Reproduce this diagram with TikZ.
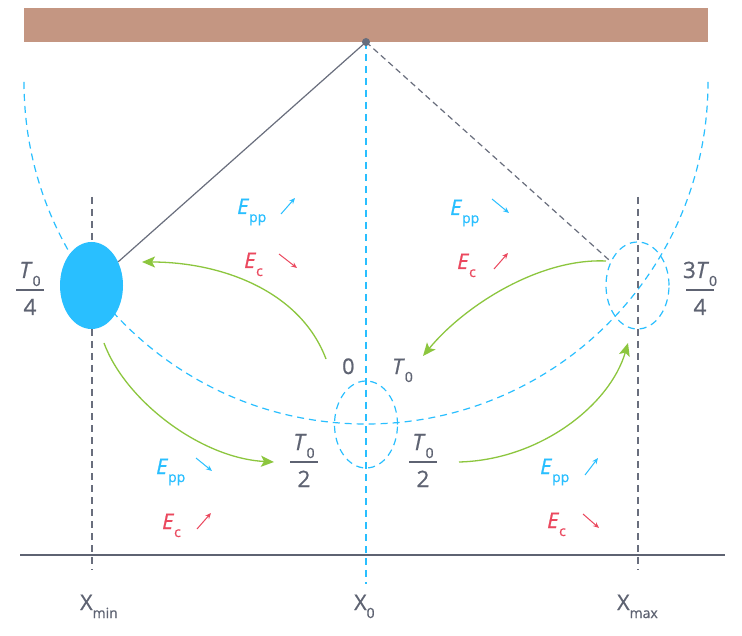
\documentclass[tikz,border=0pt]{standalone}
\usepackage{fontspec}
\setmainfont{Open Sans}[FakeBold=0.8]
\usetikzlibrary{arrows.meta,shapes.geometric}
\definecolor{tgray}{RGB}{94,99,114}
\definecolor{lgray}{RGB}{105,110,125}
\definecolor{pblue}{RGB}{41,191,255}
\definecolor{pred}{RGB}{235,72,94}
\definecolor{pgreen}{RGB}{140,198,62}
\definecolor{wood}{RGB}{196,150,130}
\newcommand\sbs[1]{\raisebox{-8pt}{\fontsize{14}{14}\selectfont #1}}
\newcommand\Tz{\textit{T}\sbs{0}}
\newcommand\fracat[5]{%
  \node[lbl, font=\fontsize{22.5}{26}\selectfont, anchor=base] (#1n) at (#2,#3-12) {#4};
  \draw[tgray, line width=1.4pt] (#2-14,#3) -- (#2+14,#3);
  \node[lbl, font=\fontsize{22.5}{26}\selectfont, anchor=base] (#1d) at (#2,#3+25) {#5};}
\begin{document}
\begin{tikzpicture}[x=1pt,y=-1pt,
  lbl/.style={font=\fontsize{21.5}{24}\selectfont, text=tgray, inner sep=0pt, anchor=base west},
  elbl/.style={lbl, text=pblue},
  clbl/.style={lbl, text=pred},
  bluedash/.style={draw=pblue, line width=1.2pt, dash pattern=on 7pt off 5pt},
  graydash/.style={draw=lgray, line width=1.3pt, dash pattern=on 7pt off 5pt},
  swing/.style={draw=pgreen, line width=1.3pt, -{Stealth[length=13pt,width=11pt,inset=3pt]}},
  bluearr/.style={draw=pblue, line width=1pt, -{Stealth[length=6pt,width=5pt]}},
  redarr/.style={draw=pred, line width=1pt, -{Stealth[length=6pt,width=5pt]}},
  bobshape/.style={ellipse, minimum width=63pt, minimum height=87pt, inner sep=0pt},
]
\useasboundingbox (0,0) rectangle (742,636);
\fill[white] (0,0) rectangle (742,636);
% ceiling
\node[fill=wood, minimum width=684pt, minimum height=34pt, inner sep=0pt, anchor=north west] (ceiling) at (24,8) {};
% swing arc
\draw[bluedash] (24,82) arc[start angle=180, end angle=0, radius=342];
% verticals
\coordinate (pv) at (366,42);
\coordinate (x0b) at (366,584);
\draw[bluedash] (pv) -- (x0b);
\coordinate (xmint) at (92,197); \coordinate (xminb) at (92,570);
\coordinate (xmaxt) at (638,197); \coordinate (xmaxb) at (638,570);
\draw[graydash] (xmint) -- (xminb);
\draw[graydash] (xmaxt) -- (xmaxb);
% ground
\coordinate (gl) at (20,555); \coordinate (gr) at (725,555);
\draw[tgray, line width=1.6pt] (gl) -- (gr);
% bobs
\node[bobshape, fill=pblue] (bob) at (91.5,285.5) {};
\node[bobshape, bluedash] (right) at (637.5,285.5) {};
\node[bobshape, bluedash] (mid) at (366,424.5) {};
\node[circle, fill=lgray, minimum size=8pt, inner sep=0pt] (pivot) at (pv) {};
% strings
\draw[lgray, line width=1.2pt] (pivot.center) -- (bob);
\draw[lgray, line width=1.2pt, dash pattern=on 6pt off 4pt] (pivot.center) -- (right);
% green arrows
\coordinate (a1s) at (326,359); \coordinate (a1e) at (142,262);
\draw[swing] (a1s) .. controls (300,290) and (220,262) .. (a1e);
\coordinate (a2s) at (606,261); \coordinate (a2e) at (423,356);
\draw[swing] (a2s) .. controls (540,258) and (465,305) .. (a2e);
\coordinate (a3s) at (104,343); \coordinate (a3e) at (274,462);
\draw[swing] (a3s) .. controls (125,400) and (200,458) .. (a3e);
\coordinate (a4s) at (459,462); \coordinate (a4e) at (628,343);
\draw[swing] (a4s) .. controls (540,460) and (610,405) .. (a4e);
% energy labels
\node[elbl] (epp1) at (237,214) {\textit{E}\sbs{pp}};
\draw[bluearr] (281,214) -- (295,198);
\node[clbl] (ec1) at (244,268) {\textit{E}\sbs{c}};
\draw[redarr] (279,254) -- (297,268);
\node[elbl] (epp2) at (450,215) {\textit{E}\sbs{pp}};
\draw[bluearr] (492,199) -- (509,213);
\node[clbl] (ec2) at (457,269) {\textit{E}\sbs{c}};
\draw[redarr] (494,269) -- (508,253);
\node[elbl] (epp3) at (156,474) {\textit{E}\sbs{pp}};
\draw[bluearr] (196,458) -- (212,471);
\node[clbl] (ec3) at (162,529) {\textit{E}\sbs{c}};
\draw[redarr] (197,529) -- (211,513);
\node[elbl] (epp4) at (540,474) {\textit{E}\sbs{pp}};
\draw[bluearr] (585,475) -- (598,458);
\node[clbl] (ec4) at (547,528) {\textit{E}\sbs{c}};
\draw[redarr] (583,514) -- (599,528);
% time labels
\node[lbl] (t0) at (342,374) {0};
\node[lbl] (tT) at (392,374) {\Tz};
\fracat{fa}{30}{290}{\Tz}{4}
\fracat{fb}{700}{290}{3\Tz}{4}
\fracat{fc}{304}{462}{\Tz}{2}
\fracat{fd}{423}{462}{\Tz}{2}
% axis labels
\node[lbl] (xmin) at (80,610) {X\sbs{min}};
\node[lbl] (xzero) at (354,610) {X\sbs{0}};
\node[lbl] (xmax) at (617,610) {X\sbs{max}};
\end{tikzpicture}
\end{document}
